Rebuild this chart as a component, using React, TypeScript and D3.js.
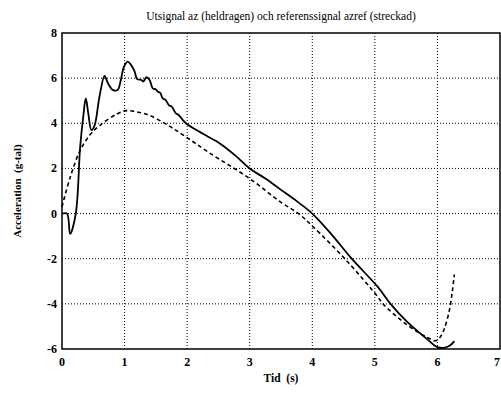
import React, { useEffect, useRef } from "react"
import * as d3 from "d3"

const title = "Utsignal az (heldragen) och referenssignal azref (streckad)"
const xLabel = "Tid  (s)"
const yLabel = "Acceleration  (g-tal)"
const xTicks = [0, 1, 2, 3, 4, 5, 6, 7]
const yTicks = [-6, -4, -2, 0, 2, 4, 6, 8]

// utsignal az (heldragen)
const tOut = [
  0, 0.08, 0.13, 0.22, 0.29, 0.34, 0.38, 0.42, 0.47, 0.52, 0.6, 0.68, 0.73, 0.81, 0.89, 0.94,
  0.99, 1.05, 1.1, 1.16, 1.2, 1.27, 1.3, 1.35, 1.4, 1.45, 1.5, 1.53, 1.57, 1.61, 1.65, 1.71,
  1.75, 1.82, 1.86, 1.93, 1.98, 2.1, 2.2, 2.35, 2.5, 2.6, 2.8, 3.0, 3.25, 3.5, 3.75, 4.0,
  4.3, 4.63, 5.05, 5.25, 5.5, 5.83, 6.0, 6.1, 6.2, 6.27,
]
const azOut = [
  0, 0, -0.9, 0, 2.95, 4.3, 5.1, 4.44, 3.7, 3.9, 5.2, 6.1, 5.8, 5.48, 5.48, 5.92,
  6.5, 6.73, 6.6, 6.3, 5.96, 5.92, 5.85, 6.04, 5.92, 5.55, 5.5, 5.4, 5.35, 5.1, 5.05, 4.8,
  4.75, 4.44, 4.38, 4.15, 4.0, 3.78, 3.62, 3.38, 3.15, 2.95, 2.5, 2.0, 1.55, 1.05, 0.55, 0.0,
  -0.9, -2.0, -3.26, -4.0, -4.75, -5.55, -5.92, -5.95, -5.85, -5.65,
]

// referenssignal azref (streckad)
const tRef = [
  0, 0.13, 0.29, 0.45, 0.6, 0.87, 1.03, 1.2, 1.4, 1.7, 1.98, 2.35, 3.0, 3.5, 3.78, 4.0,
  4.52, 5.05, 5.13, 5.5, 5.83, 5.98, 6.05, 6.11, 6.19, 6.24, 6.27,
]
const azRef = [
  0.3, 1.6, 2.8, 3.5, 3.9, 4.4, 4.56, 4.5, 4.35, 3.9, 3.4, 2.7, 1.55, 0.5, 0, -0.55,
  -2.0, -3.7, -4.0, -4.9, -5.48, -5.63, -5.45, -5.1, -4.3, -3.4, -2.7,
]

export default function App() {
  const ref = useRef<SVGSVGElement>(null)
  const width = 501
  const height = 394
  const left = 62
  const right = 500
  const top = 33
  const bottom = 349

  useEffect(() => {
    const svg = d3.select(ref.current)
    svg.selectAll("*").remove()
    const font = "'Liberation Serif', 'DejaVu Serif', serif"

    const x = d3.scaleLinear().domain([0, 7]).range([left, right])
    const y = d3.scaleLinear().domain([-6, 8]).range([bottom, top])

    svg.append("rect").attr("width", width).attr("height", height).attr("fill", "#fff")

    // grid
    const grid = svg.append("g").attr("stroke", "#000").attr("stroke-width", 1).attr("stroke-dasharray", "1,2")
    xTicks.slice(1, -1).forEach((t) => {
      grid.append("line").attr("x1", x(t)).attr("x2", x(t)).attr("y1", top).attr("y2", bottom)
    })
    yTicks.slice(1, -1).forEach((t) => {
      grid.append("line").attr("x1", left).attr("x2", right).attr("y1", y(t)).attr("y2", y(t))
    })

    // frame
    svg
      .append("rect")
      .attr("x", left)
      .attr("y", top)
      .attr("width", right - left)
      .attr("height", bottom - top)
      .attr("fill", "none")
      .attr("stroke", "#000")
      .attr("stroke-width", 1.5)

    const line = d3
      .line<[number, number]>()
      .x((d) => x(d[0]))
      .y((d) => y(d[1]))
      .curve(d3.curveCatmullRom.alpha(0.5))

    svg
      .append("path")
      .datum(tRef.map((t, i) => [t, azRef[i]] as [number, number]))
      .attr("d", line)
      .attr("fill", "none")
      .attr("stroke", "#000")
      .attr("stroke-width", 1.6)
      .attr("stroke-dasharray", "4,3")

    svg
      .append("path")
      .datum(tOut.map((t, i) => [t, azOut[i]] as [number, number]))
      .attr("d", line)
      .attr("fill", "none")
      .attr("stroke", "#000")
      .attr("stroke-width", 1.8)

    // tick labels
    const ticks = svg.append("g").attr("font-family", font).attr("font-size", 12).attr("font-weight", "bold")
    xTicks.forEach((t, i) => {
      const last = i === xTicks.length - 1
      ticks
        .append("text")
        .attr("x", last ? width - 1 : x(t))
        .attr("y", bottom + 17)
        .attr("text-anchor", last ? "end" : "middle")
        .text(t)
    })
    yTicks.forEach((t) => {
      ticks.append("text").attr("x", left - 5).attr("y", y(t) + 4).attr("text-anchor", "end").text(t)
    })

    svg
      .append("text")
      .attr("x", (left + right) / 2)
      .attr("y", 20)
      .attr("text-anchor", "middle")
      .attr("font-family", font)
      .attr("font-size", 11.5)
      .text(title)

    svg
      .append("text")
      .attr("x", (left + right) / 2)
      .attr("y", 382)
      .attr("text-anchor", "middle")
      .attr("font-family", font)
      .attr("font-size", 11.5)
      .attr("font-weight", "bold")
      .style("white-space", "pre")
      .text(xLabel)

    svg
      .append("text")
      .attr("transform", `translate(21, ${(top + bottom) / 2}) rotate(-90)`)
      .attr("text-anchor", "middle")
      .attr("font-family", font)
      .attr("font-size", 11)
      .attr("font-weight", "bold")
      .style("white-space", "pre")
      .text(yLabel)
  }, [])

  return (
    <svg
      ref={ref}
      width={width}
      height={height}
      style={{ position: "fixed", left: 0, top: 0, display: "block" }}
    />
  )
}
